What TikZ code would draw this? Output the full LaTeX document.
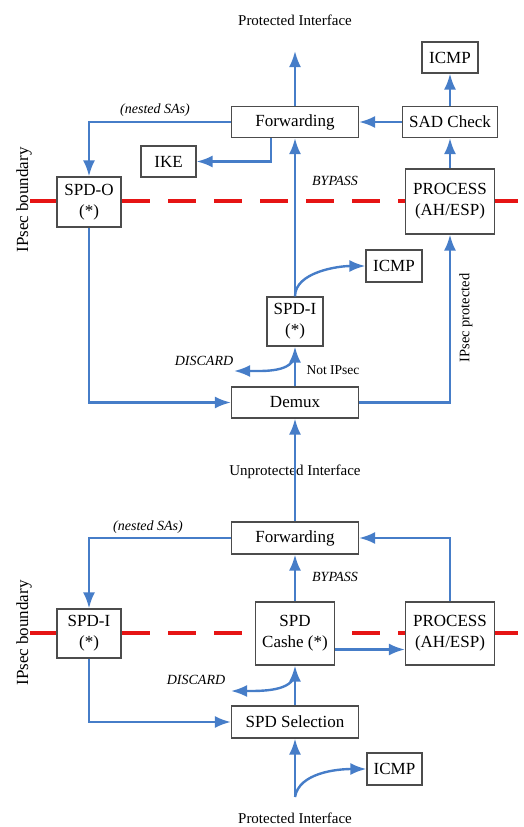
\documentclass[tikz,border=0pt]{standalone}
\usepackage{fontspec}
\setmainfont{Liberation Serif}
\usetikzlibrary{arrows.meta}
\definecolor{flowblue}{RGB}{70,125,200}
\definecolor{bndred}{RGB}{230,20,20}
\tikzset{
  box/.style={draw=black!70, line width=1.2pt, fill=white, inner sep=0pt, align=center,
    font=\fontsize{17}{21}\selectfont},
  flow/.style={draw=flowblue, line width=2.4pt, ->},
  tag/.style={font=\fontsize{14}{16}\selectfont\itshape},
  plain/.style={font=\fontsize{13.5}{16}\selectfont},
  iface/.style={font=\fontsize{15}{17}\selectfont},
  boundary/.style={draw=bndred, line width=4pt, dash pattern=on 28pt off 18pt}
}
\begin{document}
\begin{tikzpicture}[x=1pt, y=-1pt, >={Latex[length=16pt,width=12pt]}]
  \useasboundingbox (0,0) rectangle (524,827);

  % IPsec boundaries
  \draw[boundary] (30,201) -- (540,201);
  \draw[boundary] (30,633) -- (540,633);
  \node[iface, font=\fontsize{17}{19}\selectfont, rotate=90] (bndT) at (24,200) {IPsec boundary};
  \node[iface, font=\fontsize{17}{19}\selectfont, rotate=90] (bndB) at (24,633) {IPsec boundary};

  % Inbound
  \node[box, minimum width=127, minimum height=31] (fwdT) at (295,122) {Forwarding};
  \node[box, minimum width=95, minimum height=31] (sadT) at (450,122) {SAD Check};
  \node[box, minimum width=56, minimum height=31] (icmpT) at (450,57.5) {ICMP};
  \node[box, minimum width=55, minimum height=31] (ike) at (168.5,161.5) {IKE};
  \node[box, minimum width=64, minimum height=50] (spdo) at (89,202) {SPD-O\\(*)};
  \node[box, minimum width=89, minimum height=65] (procT) at (450,201.5) {PROCESS\\(AH/ESP)};
  \node[box, minimum width=56, minimum height=49] (spdi) at (295,321.5) {SPD-I\\(*)};
  \node[box, minimum width=56, minimum height=32] (icmpM) at (394,266) {ICMP};
  \node[box, minimum width=127, minimum height=31] (demux) at (295,402.5) {Demux};
  \coordinate (outT) at (295,51);
  \coordinate (discT) at (234,371);

  \node[iface] (protT) at (295,20) {Protected Interface};
  \node[tag] (nestT) at (155,110) {(nested SAs)};
  \node[tag] (bypT) at (335,181) {BYPASS};
  \node[tag] (dscT) at (204,361) {DISCARD};
  \node[plain] (notip) at (333,370) {Not IPsec};
  \node[plain, font=\fontsize{14.5}{16}\selectfont, rotate=90] (ipprot) at (466,318) {IPsec protected};

  \draw[flow] (fwdT.north) -- (outT);
  \draw[flow] (sadT.north) -- (icmpT.south);
  \draw[flow] (sadT.west) -- (fwdT.east);
  \draw[flow] (procT.north) -- (sadT.south);
  \draw[flow] (fwdT.west) -| (spdo.north);
  \draw[flow] ([xshift=-24pt]fwdT.south) |- (ike.east);
  \draw[flow] (spdi.north) -- (fwdT.south);
  \draw[flow] (spdi.north) .. controls +(0,-24) and +(-28,0) .. (icmpM.west);
  \draw[flow] (demux.north) -- (spdi.south);
  \draw[flow] ([yshift=-8pt]spdi.south) .. controls +(-2,18) and +(30,0) .. (discT);
  \draw[flow] (spdo.south) |- (demux.west);
  \draw[flow] (demux.east) -| (procT.south);

  % Outbound
  \node[box, minimum width=127, minimum height=32] (fwdB) at (295,538) {Forwarding};
  \node[box, minimum width=64, minimum height=49] (spdi2) at (89,633.5) {SPD-I\\(*)};
  \node[box, minimum width=79, minimum height=63] (cashe) at (295,633.5) {SPD\\Cashe (*)};
  \node[box, minimum width=89, minimum height=63] (procB) at (450,633.5) {PROCESS\\(AH/ESP)};
  \node[box, minimum width=127, minimum height=32] (sel) at (295,722) {SPD Selection};
  \node[box, minimum width=55, minimum height=32] (icmpB) at (394.5,769) {ICMP};
  \coordinate (inB) at (295,797);
  \coordinate (discB) at (231,691);

  \node[iface] (unprot) at (295,472) {Unprotected Interface};
  \node[iface] (protB) at (295,818) {Protected Interface};
  \node[tag] (nestB) at (148,527) {(nested SAs)};
  \node[tag] (bypB) at (335,577) {BYPASS};
  \node[tag] (dscB) at (196,680) {DISCARD};

  \draw[flow] (fwdB.north) -- (demux.south);
  \draw[flow] (fwdB.west) -| (spdi2.north);
  \draw[flow] (cashe.north) -- (fwdB.south);
  \draw[flow] (procB.north) |- (fwdB.east);
  \draw[flow] ([yshift=-16pt]cashe.east) -- ([yshift=-16pt]procB.west);
  \draw[flow] (spdi2.south) |- (sel.west);
  \draw[flow] (sel.north) -- (cashe.south);
  \draw[flow] ([yshift=-8pt]cashe.south) .. controls +(-2,18) and +(30,0) .. (discB);
  \draw[flow] (inB) -- (sel.south);
  \draw[flow] (inB) .. controls +(4,-24) and +(-30,0) .. (icmpB.west);
\end{tikzpicture}
\end{document}
